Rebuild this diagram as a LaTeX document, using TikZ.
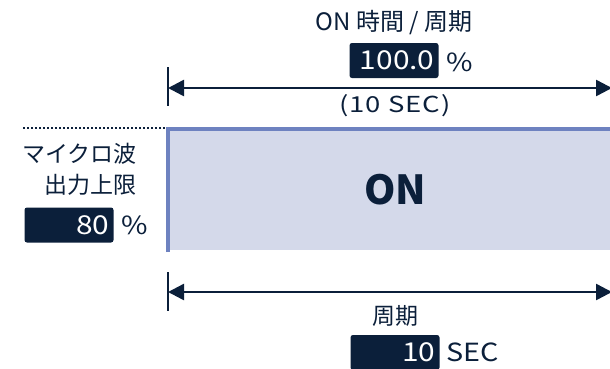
\documentclass[tikz,border=0pt]{standalone}
\usepackage{fontspec}
\setmainfont{Noto Sans CJK JP}
\newfontfamily\widefont[FakeStretch=1.15]{Noto Sans CJK JP}
\newfontfamily\widesp[FakeStretch=1.25,LetterSpace=4]{Noto Sans CJK JP}
\usetikzlibrary{arrows.meta}
\definecolor{navy}{HTML}{0B1F3A}
\definecolor{onfill}{HTML}{D4D9EA}
\definecolor{onborder}{HTML}{6E82C0}
\tikzset{
  lbl/.style={text=navy, inner sep=0pt, font=\fontsize{23}{26}\selectfont},
  unit/.style={text=navy, inner sep=0pt, anchor=west, font=\widefont\fontsize{25}{27}\selectfont},
  valbox/.style={fill=navy, text=white, rounded corners=2.5pt, minimum height=35pt, text width=81pt, align=right, inner xsep=4pt, inner ysep=0pt, font=\widefont\fontsize{26}{28}\selectfont},
  dimline/.style={draw=navy, line width=2.5pt, {Triangle[length=16pt,width=16pt]}-{Triangle[length=16pt,width=16pt]}},
  tickline/.style={draw=navy, line width=2.5pt},
}
\begin{document}
\begin{tikzpicture}[x=1pt,y=-1pt]
\useasboundingbox (0,0) rectangle (610,368);
\clip (0,0) rectangle (610,368);
% ON block
\fill[onfill] (168,129) rectangle (620,250);
\draw[onborder, line width=4pt] (168,252) -- (168,129) -- (620,129);
\node[text=navy, inner sep=0pt, font=\fontsize{40}{44}\selectfont\bfseries] (on) at (395,190) {ON};
% dotted
\coordinate (d1) at (23,128);
\coordinate (d2) at (165,128);
\draw[navy, line width=1.5pt, dash pattern=on 1.5pt off 2.5pt] (d1) -- (d2);
% top dimension
\coordinate (tt1) at (168,67);
\coordinate (tt2) at (168,106);
\draw[tickline] (tt1) -- (tt2);
\coordinate (ta) at (168,88);
\coordinate (tb) at (612,88);
\draw[dimline] (ta) -- (tb);
\node[lbl, font=\fontsize{24}{26}\selectfont] (title) at (394,23) {ON 時間 / 周期};
\node[valbox] (v1) at (394,60.5) {100.0};
\node[unit] (p1) at (446,62) {\%};
\node[lbl, font=\widesp\fontsize{22}{24}\selectfont] (sec1) at (395,106) {(10 SEC)};
% left
\node[lbl, anchor=east] (mw) at (137,154) {マイクロ波};
\node[lbl, anchor=east] (lim) at (137,185) {出力上限};
\node[valbox] (v2) at (69,225) {80};
\node[unit] (p2) at (121,225) {\%};
% bottom dimension
\coordinate (bt1) at (168,272);
\coordinate (bt2) at (168,311);
\draw[tickline] (bt1) -- (bt2);
\coordinate (ba) at (168,292);
\coordinate (bb) at (612,292);
\draw[dimline] (ba) -- (bb);
\node[lbl] (cyc) at (395,316) {周期};
\node[valbox] (v3) at (395,352.5) {10};
\node[unit] (s3) at (446,352) {SEC};
\end{tikzpicture}
\end{document}
